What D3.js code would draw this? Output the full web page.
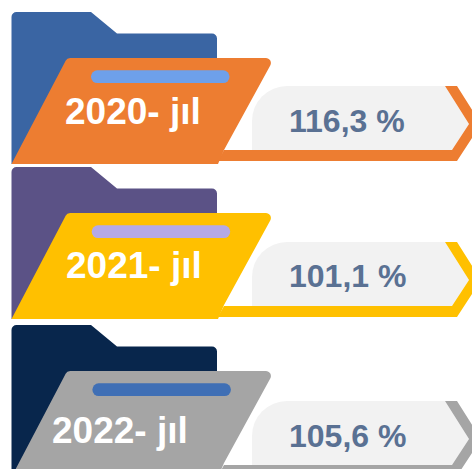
<!DOCTYPE html>
<html>
<head>
<meta charset="utf-8">
<script src="https://cdn.jsdelivr.net/npm/d3@7"></script>
<style>
html, body { margin: 0; padding: 0; background: #fff; }
svg { display: block; }
text { font-family: "Liberation Sans", Arial, sans-serif; font-weight: bold; }
</style>
</head>
<body>
<div id="chart"></div>
<script>
const years = ["2020- jıl", "2021- jıl", "2022- jıl"];
const percents = [116.3, 101.1, 105.6];

const backColors = ["#3a65a3", "#5b5286", "#08264c"];
const frontColors = ["#ed7d31", "#ffc000", "#a5a5a5"];
const pillColors = ["#6ea0ea", "#b5a9e6", "#3f6fb5"];

const width = 472, height = 469;

// each row sits a little differently in the picture
const rowY = d3.scaleOrdinal().domain(years).range([0, 155, 313]);
const tagY = d3.scaleOrdinal().domain(years).range([0, 156, 315]);
const pillX = d3.scaleOrdinal().domain(years).range([91, 91.7, 92.4]);
const labelX = d3.scaleOrdinal().domain(years).range([65, 66, 52]);
const labelY = d3.scaleOrdinal().domain(years).range([124, 123, 130]);
const valueY = d3.scaleOrdinal().domain(years).range([131.7, 132.3, 133.7]);

const fmt = v => v.toFixed(1).replace(".", ",") + " %";

function backPath() {
    const p = d3.path();
    p.moveTo(11.5, 18);
    p.arcTo(11.5, 12, 17.5, 12, 5);
    p.lineTo(91, 12);
    p.lineTo(117, 33.5);
    p.lineTo(212, 33.5);
    p.arcTo(217, 33.5, 217, 38.5, 5);
    p.lineTo(217, 164);
    p.lineTo(11.5, 164);
    p.closePath();
    return p.toString();
}

function frontPath() {
    const p = d3.path();
    p.moveTo(11.5, 164);
    p.lineTo(65, 62);
    p.arcTo(67, 58, 72, 58, 5);
    p.lineTo(267, 58);
    p.arcTo(274, 58, 271, 64, 5);
    p.lineTo(224, 150);
    p.lineTo(218, 164);
    p.closePath();
    return p.toString();
}

function tagPath() {
    const p = d3.path();
    p.moveTo(252, 150);
    p.lineTo(252, 121);
    p.arcTo(252, 86, 287, 86, 35);
    p.lineTo(445, 86);
    p.lineTo(469, 124);
    p.lineTo(452, 150);
    p.closePath();
    return p.toString();
}

function arrowPath() {
    const p = d3.path();
    p.moveTo(445, 86);
    p.lineTo(457, 86);
    p.lineTo(481, 124);
    p.lineTo(457, 161);
    p.lineTo(218, 161);
    p.lineTo(224, 150);
    p.lineTo(452, 150);
    p.lineTo(469, 124);
    p.closePath();
    return p.toString();
}

const svg = d3.select("#chart").append("svg")
    .attr("width", width)
    .attr("height", height);

const rows = svg.selectAll(".row")
    .data(years)
    .enter()
    .append("g")
    .attr("class", "row")
    .attr("transform", d => `translate(0,${rowY(d)})`);

rows.append("path")
    .attr("d", backPath())
    .attr("fill", (d, i) => backColors[i]);

rows.append("path")
    .attr("d", tagPath())
    .attr("transform", d => `translate(0,${tagY(d) - rowY(d)})`)
    .attr("fill", "#f2f2f2");

rows.append("path")
    .attr("d", arrowPath())
    .attr("transform", d => `translate(0,${tagY(d) - rowY(d)})`)
    .attr("fill", (d, i) => frontColors[i]);

rows.append("path")
    .attr("d", frontPath())
    .attr("fill", (d, i) => frontColors[i]);

rows.append("rect")
    .attr("x", d => pillX(d))
    .attr("y", 70.3)
    .attr("width", 138.5)
    .attr("height", 12.7)
    .attr("rx", 6.3)
    .attr("fill", (d, i) => pillColors[i]);

rows.append("text")
    .attr("x", d => labelX(d))
    .attr("y", d => labelY(d))
    .attr("font-size", 37)
    .attr("fill", "#fff")
    .text(d => d);

rows.append("text")
    .attr("x", 289)
    .attr("y", d => valueY(d))
    .attr("font-size", 32)
    .attr("fill", "#5a7193")
    .text((d, i) => fmt(percents[i]));
</script>
</body>
</html>
